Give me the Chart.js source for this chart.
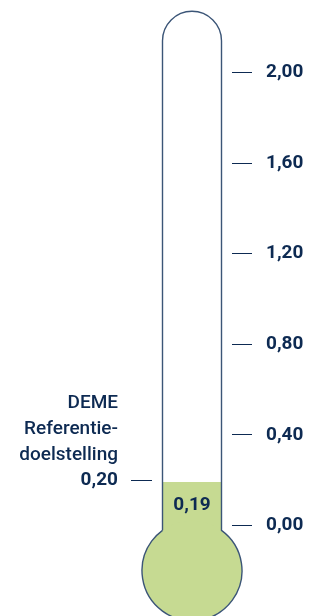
<!DOCTYPE html>
<html>
<head>
<meta charset="utf-8">
<script src="https://cdn.jsdelivr.net/npm/chart.js@4/dist/chart.umd.min.js"></script>
<style>
  html, body { margin: 0; padding: 0; background: #ffffff; }
  #wrap { position: relative; width: 335px; height: 616px; }
</style>
</head>
<body>
<div id="wrap"><canvas id="thermo"></canvas></div>
<script>
// Values
const categories = ['DEME'];
const actualValues = [0.19];
const targetValues = [0.20];
const scaleTicks = [0, 0.4, 0.8, 1.2, 1.6, 2.0];
const targetCaption = ['DEME', 'Referentie-', 'doelstelling'];

// Thermometer geometry (in axis units / pixels)
const Y_MIN = -0.4;
const Y_MAX = 2.32;
const TUBE_TOP = 2.27;     // top of the rounded glass tube
const BULB_CENTER = -0.2;  // centre of the reservoir bulb
const BULB_RADIUS = 50;

const NAVY = '#0d2a52';
const GLASS = '#3b5577';
const FILL = '#c6da92';
const FONT = 'Roboto, "Open Sans", sans-serif';

const fmt = v => Number(v).toFixed(2).replace('.', ',');

const thermometer = {
  id: 'thermometer',
  afterDatasetsDraw(chart) {
    const ctx = chart.ctx;
    const y = chart.scales.y;
    const bar = chart.getDatasetMeta(0).data[0];
    const cx = bar.x;
    const r = bar.width / 2;
    const left = cx - r, right = cx + r;
    const topY = y.getPixelForValue(TUBE_TOP);
    const bulbY = y.getPixelForValue(BULB_CENTER);
    const dy = Math.sqrt(BULB_RADIUS * BULB_RADIUS - r * r);
    const joinY = bulbY - dy;

    ctx.save();
    // reservoir fill
    ctx.fillStyle = FILL;
    ctx.beginPath();
    ctx.arc(cx, bulbY, BULB_RADIUS, 0, Math.PI * 2);
    ctx.fill();

    // glass outline: tube with rounded top, then bulb
    const a1 = Math.atan2(-dy, r);
    const a2 = Math.atan2(-dy, -r) + Math.PI * 2;
    ctx.strokeStyle = GLASS;
    ctx.lineWidth = 1.4;
    ctx.beginPath();
    ctx.moveTo(left, joinY);
    ctx.lineTo(left, topY + r);
    ctx.arc(cx, topY + r, r, Math.PI, 0);
    ctx.lineTo(right, joinY);
    ctx.arc(cx, bulbY, BULB_RADIUS, a1, a2);
    ctx.stroke();

    // value label inside the tube
    const v = actualValues[0];
    const ly = (y.getPixelForValue(v) + y.getPixelForValue(0)) / 2;
    ctx.fillStyle = NAVY;
    ctx.font = 'bold 19px ' + FONT;
    ctx.textAlign = 'center';
    ctx.textBaseline = 'middle';
    ctx.fillText(fmt(v), cx, ly + 1);

    // caption above the target tick
    const tY = y.getPixelForValue(targetValues[0]);
    const tScale = chart.scales.yTarget;
    const tx = tScale.right - 21 - 13;
    ctx.font = '500 19px ' + FONT;
    ctx.textAlign = 'right';
    const n = targetCaption.length;
    targetCaption.forEach((line, i) => {
      ctx.fillText(line, tx, tY - (n - i) * 25.8 + 1);
    });
    ctx.restore();
  }
};

const noPad = s => { s.paddingTop = 0; s.paddingBottom = 0; };

new Chart(document.getElementById('thermo'), {
  type: 'bar',
  data: {
    labels: categories,
    datasets: [{
      data: [[BULB_CENTER, actualValues[0]]],
      backgroundColor: FILL,
      borderWidth: 0,
      barThickness: 59
    }]
  },
  options: {
    responsive: true,
    maintainAspectRatio: false,
    devicePixelRatio: 1,
    animation: false,
    layout: { padding: 0 },
    plugins: { legend: { display: false }, tooltip: { enabled: false } },
    scales: {
      x: { display: false },
      y: {
        position: 'right',
        min: Y_MIN, max: Y_MAX,
        afterBuildTicks: s => { s.ticks = scaleTicks.map(v => ({ value: v })); },
        afterFit: s => { s.width = 103; noPad(s); },
        border: { display: false },
        grid: { drawOnChartArea: false, drawTicks: true, tickLength: 20, tickColor: NAVY, tickWidth: 1 },
        ticks: { padding: 14, color: NAVY, font: { family: FONT, size: 19, weight: 'bold' }, callback: v => fmt(v) }
      },
      yTarget: {
        position: 'left',
        min: Y_MIN, max: Y_MAX,
        afterBuildTicks: s => { s.ticks = targetValues.map(v => ({ value: v })); },
        afterFit: s => { s.width = 152; noPad(s); },
        border: { display: false },
        grid: { drawOnChartArea: false, drawTicks: true, tickLength: 21, tickColor: NAVY, tickWidth: 1 },
        ticks: { padding: 13, color: NAVY, font: { family: FONT, size: 19, weight: 'bold' }, callback: v => fmt(v) }
      }
    }
  },
  plugins: [thermometer]
});
</script>
</body>
</html>
